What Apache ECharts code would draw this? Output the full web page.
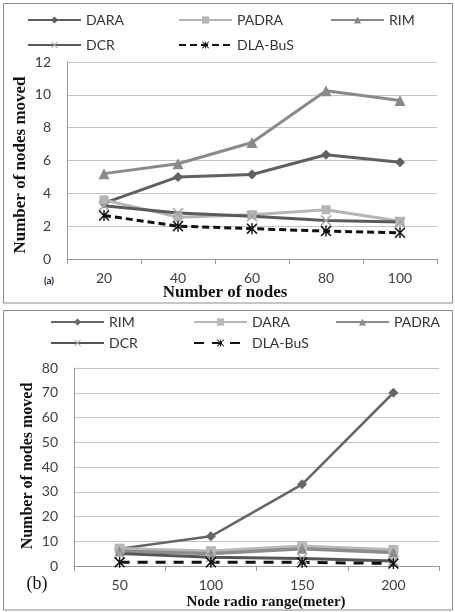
<!DOCTYPE html>
<html>
<head>
<meta charset="utf-8">
<script src="https://cdn.jsdelivr.net/npm/echarts@6/dist/echarts.min.js"></script>
<style>
  html, body { margin: 0; padding: 0; background: #fff; }
  #wrap { position: relative; width: 455px; height: 612px; }
  #chartA { position: absolute; left: 0; top: 0; width: 455px; height: 306px; }
  #chartB { position: absolute; left: 0; top: 306px; width: 455px; height: 306px; }
</style>
</head>
<body>
<div id="wrap">
  <div id="chartA"></div>
  <div id="chartB"></div>
</div>
<script>
// (a) nodes moved vs. number of nodes
const nodeCounts = ['20', '40', '60', '80', '100'];
const daraA  = [3.4, 5.0, 5.15, 6.35, 5.9];
const padraA = [3.6, 2.55, 2.7, 3.0, 2.3];
const rimA   = [5.2, 5.8, 7.1, 10.25, 9.65];
const dcrA   = [3.25, 2.8, 2.6, 2.35, 2.25];
const dlaA   = [2.65, 2.0, 1.85, 1.7, 1.6];

// (b) nodes moved vs. node radio range
const radioRanges = ['50', '100', '150', '200'];
const rimB   = [7, 12, 33, 70];
const daraB  = [7, 6, 8, 6.5];
const padraB = [6, 5, 7, 5.5];
const dcrB   = [5, 3.5, 3, 2];
const dlaB   = [1.5, 1.5, 1.5, 1];

const SANS = 'Lato';
const SERIF = '"Liberation Serif", "Times New Roman", serif';
const TICK_COLOR = '#404040';
const GRID_COLOR = '#c4c4c4';
const AXIS_COLOR = '#9a9a9a';

// filled cross and asterisk shapes for markers
const CROSS = 'path://M0,1L1,0L5,4L9,0L10,1L6,5L10,9L9,10L5,6L1,10L0,9L4,5Z';
const STAR = 'path://M0,1L1,0L5,4L9,0L10,1L6,5L10,9L9,10L5,6L1,10L0,9L4,5Z M4.35,0L5.65,0L5.65,10L4.35,10Z';

function lineSeries(name, data, lineColor, markColor, symbol, size, width, dash) {
  return {
    name: name,
    type: 'line',
    data: data,
    symbol: symbol,
    symbolSize: size,
    showAllSymbol: true,
    lineStyle: { color: lineColor, width: width, type: dash || 'solid' },
    itemStyle: { color: markColor, borderWidth: 0 },
    emphasis: { disabled: true },
    animation: false
  };
}

function legendItem(name, left, top) {
  return {
    data: [name],
    left: left,
    top: top,
    padding: 0,
    itemWidth: 53,
    itemHeight: 9,
    itemGap: 0,
    selectedMode: false,
    textStyle: { fontFamily: SANS, fontSize: 14, color: '#333' }
  };
}

function frame(top, height) {
  return {
    type: 'rect',
    shape: { x: 3.5, y: top, width: 449, height: height },
    style: { fill: 'none', stroke: '#8c8c8c', lineWidth: 1 },
    silent: true
  };
}

function label(text, x, y, font, rotate, color) {
  return {
    type: 'text',
    x: x,
    y: y,
    rotation: rotate ? Math.PI / 2 : 0,
    style: {
      text: text,
      x: 0,
      y: 0,
      align: 'center',
      verticalAlign: 'middle',
      font: font,
      fill: color || '#111'
    },
    silent: true
  };
}

function axes(categories, max, interval) {
  return {
    xAxis: {
      type: 'category',
      data: categories,
      boundaryGap: true,
      axisLine: { lineStyle: { color: AXIS_COLOR, width: 1 } },
      axisTick: { show: true, length: 5, inside: false, lineStyle: { color: AXIS_COLOR } },
      axisLabel: { margin: 12, fontFamily: SANS, fontSize: 14, color: TICK_COLOR },
      splitLine: { show: false }
    },
    yAxis: {
      type: 'value',
      min: 0,
      max: max,
      interval: interval,
      axisLine: { show: true, lineStyle: { color: AXIS_COLOR, width: 1 } },
      axisTick: { show: false },
      axisLabel: { margin: 16, fontFamily: SANS, fontSize: 14, color: TICK_COLOR },
      splitLine: { lineStyle: { color: GRID_COLOR, width: 1 } }
    }
  };
}

// ---------- chart (a) ----------
const chartA = echarts.init(document.getElementById('chartA'), null, { renderer: 'canvas' });
const axA = axes(nodeCounts, 12, 2);
chartA.setOption({
  backgroundColor: '#fff',
  animation: false,
  grid: { left: 67, right: 18, top: 62, bottom: 47, containLabel: false },
  xAxis: axA.xAxis,
  yAxis: axA.yAxis,
  legend: [
    legendItem('DARA', 27, 13),
    legendItem('PADRA', 178, 13),
    legendItem('RIM', 330, 13),
    legendItem('DCR', 27, 38),
    legendItem('DLA-BuS', 178, 38)
  ],
  series: [
    lineSeries('DARA', daraA, '#606060', '#606060', 'diamond', 10, 3),
    lineSeries('PADRA', padraA, '#b5b5b5', '#b5b5b5', 'rect', 9, 3),
    lineSeries('RIM', rimA, '#8a8a8a', '#8a8a8a', 'triangle', 11, 3),
    lineSeries('DCR', dcrA, '#5a5a5a', '#a8a8a8', CROSS, 11, 3),
    lineSeries('DLA-BuS', dlaA, '#111', '#111', STAR, 11, 3, [7, 4])
  ],
  graphic: [
    frame(3.5, 299.5),
    label('Number of nodes moved', 21, 165, 'bold 17px ' + SERIF, false),
    label('Number of nodes', 225, 293, 'bold 17px ' + SERIF, false),
    label('(a)', 49, 281, 'bold 10px ' + SANS, false, '#1a1a3a')
  ]
});
// rotate the y-axis title to read bottom-to-top
chartA.setOption({
  graphic: [
    frame(3.5, 299.5),
    Object.assign(label('Number of nodes moved', 21, 165, 'bold 17px ' + SERIF, false), { rotation: Math.PI / 2 }),
    label('Number of nodes', 225, 293, 'bold 17px ' + SERIF, false),
    label('(a)', 49, 281, 'bold 10px ' + SANS, false, '#1a1a3a')
  ]
});

// ---------- chart (b) ----------
const chartB = echarts.init(document.getElementById('chartB'), null, { renderer: 'canvas' });
const axB = axes(radioRanges, 80, 10);
chartB.setOption({
  backgroundColor: '#fff',
  animation: false,
  grid: { left: 74, right: 16, top: 62, bottom: 46, containLabel: false },
  xAxis: axB.xAxis,
  yAxis: axB.yAxis,
  legend: [
    legendItem('RIM', 50, 9),
    legendItem('DARA', 193, 9),
    legendItem('PADRA', 335, 9),
    legendItem('DCR', 50, 30),
    legendItem('DLA-BuS', 193, 30)
  ],
  series: [
    lineSeries('RIM', rimB, '#666666', '#666666', 'diamond', 10, 2.5),
    lineSeries('DARA', daraB, '#b8b8b8', '#b8b8b8', 'rect', 10, 3.5),
    lineSeries('PADRA', padraB, '#8c8c8c', '#8c8c8c', 'triangle', 10, 3.5),
    lineSeries('DCR', dcrB, '#555555', '#a8a8a8', CROSS, 11, 3),
    lineSeries('DLA-BuS', dlaB, '#111', '#111', STAR, 11, 3, [10, 8])
  ],
  graphic: [
    frame(4.5, 299.5),
    Object.assign(label('Number of nodes moved', 28, 160, 'bold 16px ' + SERIF, false), { rotation: Math.PI / 2 }),
    label('Node radio range(meter)', 266, 296, 'bold 15px ' + SERIF, false),
    label('(b)', 37, 278, '18px ' + SERIF, false)
  ]
});
</script>
</body>
</html>
